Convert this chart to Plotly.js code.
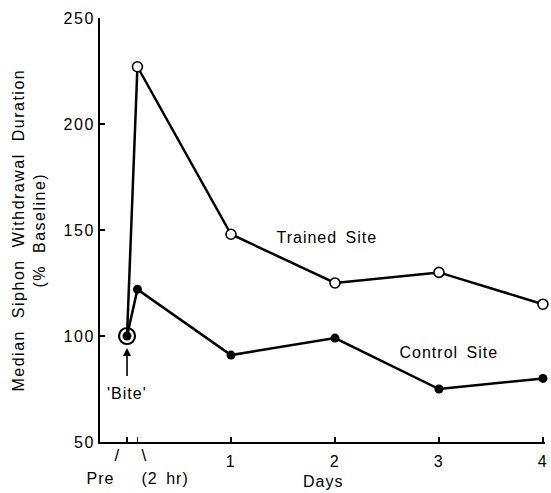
<!DOCTYPE html>
<html>
<head>
<meta charset="utf-8">
<script src="https://cdn.plot.ly/plotly-3.0.1.min.js"></script>
<style>
html,body{margin:0;padding:0;background:#fff;}
#chart{width:551px;height:493px;}
</style>
</head>
<body>
<div id="chart"></div>
<script>
// x positions in days: Pre = 0, 2 hr after bite ~ 0.1 day
const xDays = [0, 0.1, 1, 2, 3, 4];
const trainedSite = [100, 227, 148, 125, 130, 115];
const controlSite = [100, 122, 91, 99, 75, 80];
const yTicks = [50, 100, 150, 200, 250];
const xTickVals = [0, 0.1, 1, 2, 3, 4];
const xTickText = ['', '', '1', '2', '3', '4'];

const FONT = 'Liberation Sans, Arial, Helvetica, sans-serif';

const trained = {
  x: xDays, y: trainedSite, type: 'scatter', mode: 'lines+markers', name: 'Trained Site',
  cliponaxis: false,
  line: {color: '#000', width: 2.5},
  marker: {
    symbol: 'circle', opacity: 1,
    size: xDays.map((d, i) => i === 0 ? 16 : 10),
    color: xDays.map((d, i) => i === 0 ? 'rgba(255,255,255,0)' : '#ffffff'),
    line: {color: '#000', width: xDays.map((d, i) => i === 0 ? 2.2 : 1.6)}
  }
};
const control = {
  x: xDays, y: controlSite, type: 'scatter', mode: 'lines+markers', name: 'Control Site',
  cliponaxis: false,
  line: {color: '#000', width: 2.5},
  marker: {symbol: 'circle', size: 9, opacity: 1, color: '#000', line: {color: '#000', width: 0}}
};

const layout = {
  width: 551, height: 493,
  margin: {l: 100, r: 6, t: 18, b: 51},
  paper_bgcolor: '#fff', plot_bgcolor: '#fff',
  showlegend: false,
  font: {family: FONT, color: '#000', size: 16},
  xaxis: {
    range: [-0.26, 4.02],
    tickvals: xTickVals, ticktext: xTickText,
    ticks: 'inside', ticklen: 5, tickwidth: 1.5, tickcolor: '#000',
    showline: true, linecolor: '#000', linewidth: 2,
    showgrid: false, zeroline: false,
    tickfont: {family: FONT, size: 16, color: '#000'},
    ticklabelstandoff: 4
  },
  yaxis: {
    range: [50, 250],
    tickvals: yTicks,
    ticks: 'inside', ticklen: 5, tickwidth: 1.5, tickcolor: '#000',
    showline: true, linecolor: '#000', linewidth: 2,
    showgrid: false, zeroline: false,
    tickfont: {family: FONT, size: 16, color: '#000'}
  },
  annotations: [
    {xref: 'paper', yref: 'paper', x: -0.16, y: 0.5, textangle: -90,
     text: 'Median Siphon Withdrawal Duration<br>(% Baseline)', showarrow: false,
     font: {family: FONT, size: 16}, xanchor: 'center', yanchor: 'middle'},
    {xref: 'paper', yref: 'paper', x: 0.5, y: -0.094, text: 'Days', showarrow: false,
     font: {family: FONT, size: 16}, xanchor: 'center', yanchor: 'middle'},
    {xref: 'x', yref: 'y', x: 1.92, y: 146.7, text: 'Trained Site', showarrow: false,
     font: {family: FONT, size: 16}, xanchor: 'center', yanchor: 'middle'},
    {xref: 'x', yref: 'y', x: 3.1, y: 92, text: 'Control Site', showarrow: false,
     font: {family: FONT, size: 16}, xanchor: 'center', yanchor: 'middle'},
    {xref: 'x', yref: 'y', x: 0, y: 100, text: "'Bite'", showarrow: true,
     ax: 0, ay: 57, arrowhead: 2, arrowsize: 1, arrowwidth: 1.6, arrowcolor: '#000',
     standoff: 12, borderpad: 8, font: {family: FONT, size: 16}},
    {xref: 'x', yref: 'paper', x: -0.26, y: -0.087, text: 'Pre', showarrow: false,
     font: {family: FONT, size: 16}, xanchor: 'center', yanchor: 'middle'},
    {xref: 'x', yref: 'paper', x: 0.365, y: -0.087, text: '(2 hr)', showarrow: false,
     font: {family: FONT, size: 16}, xanchor: 'center', yanchor: 'middle'},
    {xref: 'x', yref: 'paper', x: -0.087, y: -0.031, text: '/', showarrow: false,
     font: {family: FONT, size: 17}, xanchor: 'center', yanchor: 'middle'},
    {xref: 'x', yref: 'paper', x: 0.165, y: -0.031, text: '\\', showarrow: false,
     font: {family: FONT, size: 17}, xanchor: 'center', yanchor: 'middle'}
  ]
};

Plotly.newPlot('chart', [trained, control], layout, {displayModeBar: false, staticPlot: true}).then(function (gd) {
  // widely tracked typesetting of the original figure
  gd.querySelectorAll('.xtick text, .ytick text').forEach(function (t) { t.style.letterSpacing = '1.5px'; });
  gd.querySelectorAll('.annotation').forEach(function (g) {
    var idx = g.getAttribute('data-index');
    var t = g.querySelector('text');
    if (!t) return;
    if (idx === '0') { t.style.letterSpacing = '1.5px'; t.style.wordSpacing = '6px'; }
    else { t.style.letterSpacing = '1px'; t.style.wordSpacing = '3px'; }
  });
});
</script>
</body>
</html>
